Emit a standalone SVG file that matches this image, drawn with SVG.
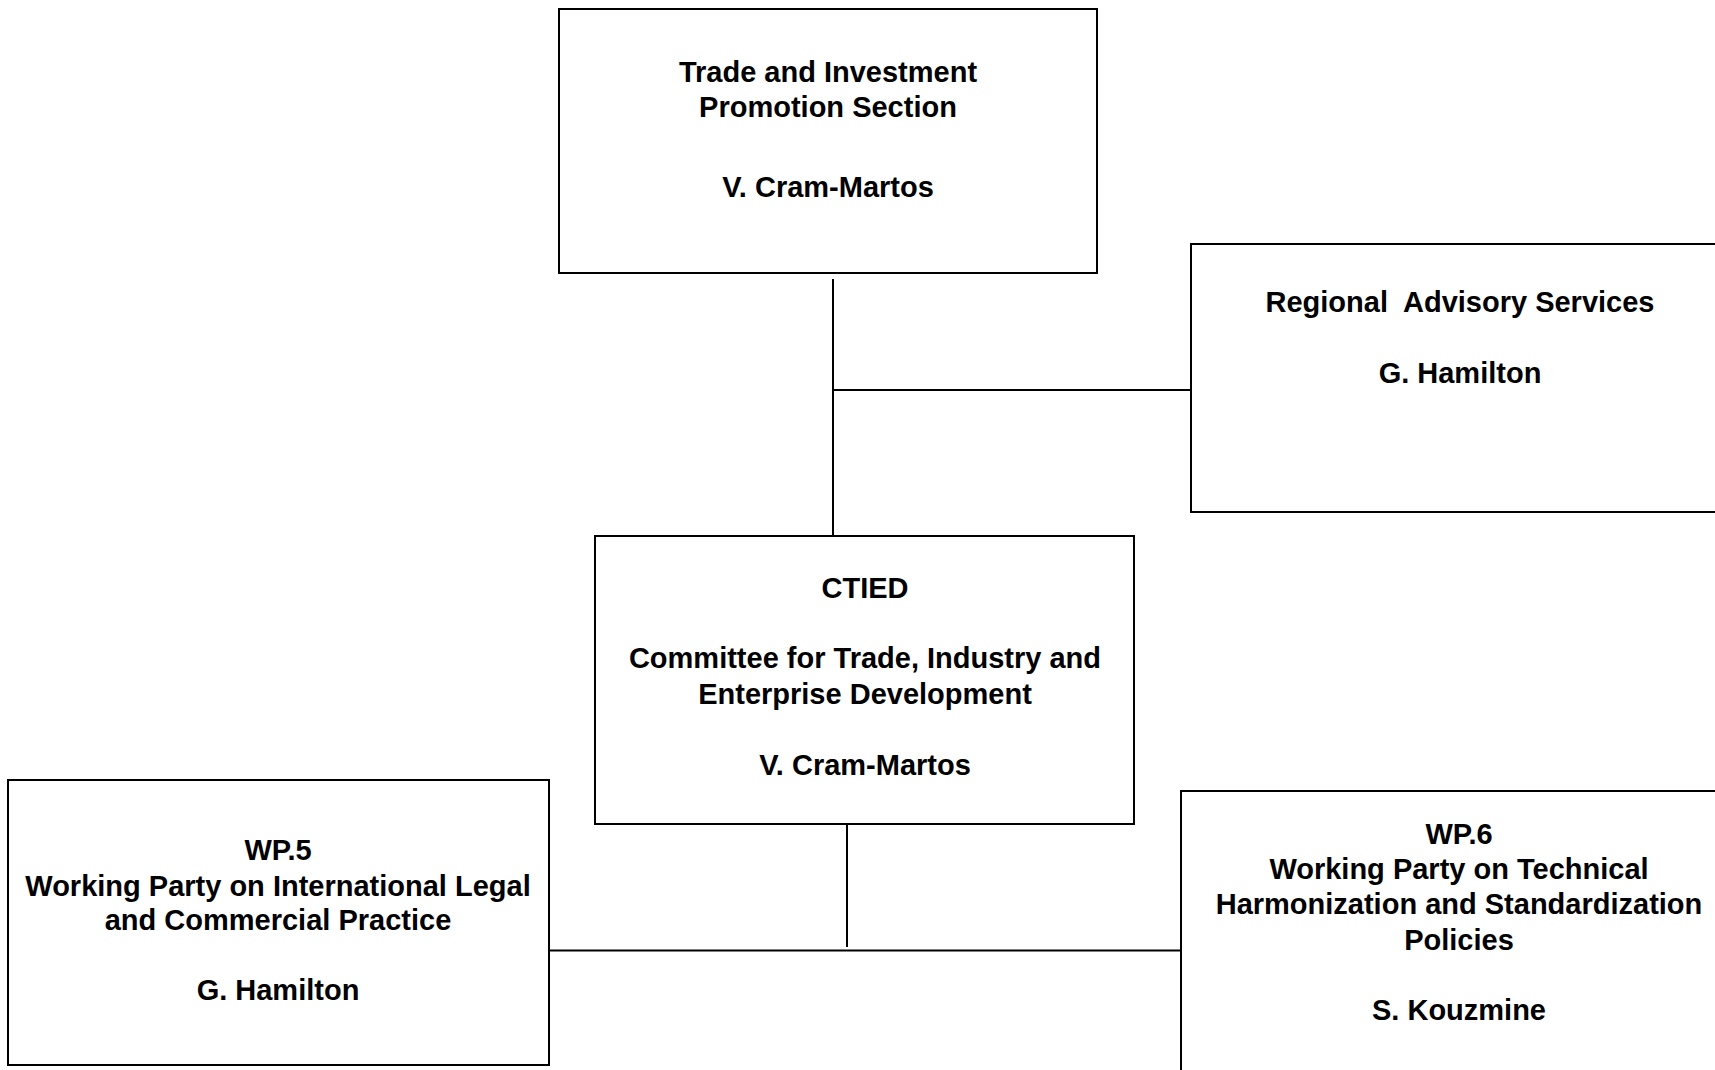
<svg xmlns="http://www.w3.org/2000/svg" width="1715" height="1070" viewBox="0 0 1715 1070">
<style>
.box{fill:#fff;stroke:#000;stroke-width:2}
.ln{stroke:#000;stroke-width:2;fill:none}
text{font-family:"Liberation Sans",Arial,sans-serif;font-weight:bold;font-size:29px;text-anchor:middle;fill:#000;white-space:pre}
</style>
<rect width="1715" height="1070" fill="#fff"/>
<g id="connectors">
<line class="ln" x1="833" y1="279" x2="833" y2="536"/>
<line class="ln" x1="833" y1="390" x2="1191" y2="390"/>
<line class="ln" x1="847" y1="824" x2="847" y2="947"/>
<line class="ln" x1="549" y1="950.5" x2="1181" y2="950.5"/>
</g>
<g id="trade">
<rect class="box" x="559" y="9" width="538" height="264"/>
<text x="828" y="82">Trade and Investment</text>
<text x="828" y="117">Promotion Section</text>
<text x="828" y="197">V. Cram-Martos</text>
</g>
<g id="regional">
<rect class="box" x="1191" y="244" width="540" height="268"/>
<text x="1460" y="312" xml:space="preserve">Regional  Advisory Services</text>
<text x="1460" y="383">G. Hamilton</text>
</g>
<g id="ctied">
<rect class="box" x="595" y="536" width="539" height="288"/>
<text x="865" y="598">CTIED</text>
<text x="865" y="668">Committee for Trade, Industry and</text>
<text x="865" y="704">Enterprise Development</text>
<text x="865" y="775">V. Cram-Martos</text>
</g>
<g id="wp5">
<rect class="box" x="8" y="780" width="541" height="285"/>
<text x="278" y="860">WP.5</text>
<text x="278" y="896">Working Party on International Legal</text>
<text x="278" y="930">and Commercial Practice</text>
<text x="278" y="1000">G. Hamilton</text>
</g>
<g id="wp6">
<rect class="box" x="1181" y="791" width="550" height="300"/>
<text x="1459" y="844">WP.6</text>
<text x="1459" y="879">Working Party on Technical</text>
<text x="1459" y="914">Harmonization and Standardization</text>
<text x="1459" y="950">Policies</text>
<text x="1459" y="1020">S. Kouzmine</text>
</g>
</svg>
